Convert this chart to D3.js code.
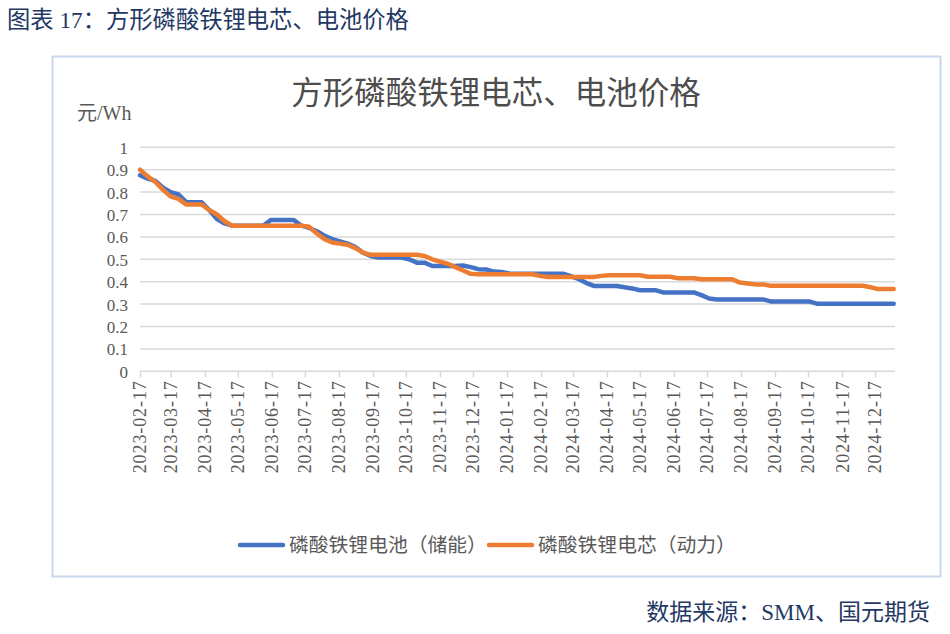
<!DOCTYPE html>
<html>
<head>
<meta charset="utf-8">
<script src="https://cdn.jsdelivr.net/npm/d3@7"></script>
<style>
  html, body { margin: 0; padding: 0; background: #fff; }
  svg { display: block; }
</style>
</head>
<body>
<svg id="chart" width="950" height="634"></svg>
<script>
// ---------------- data ----------------
const weekDates = [
  "2023-02-17","2023-02-24","2023-03-03","2023-03-10","2023-03-17","2023-03-24","2023-03-31",
  "2023-04-07","2023-04-14","2023-04-21","2023-04-28","2023-05-05","2023-05-12","2023-05-19",
  "2023-05-26","2023-06-02","2023-06-09","2023-06-16","2023-06-23","2023-06-30","2023-07-07",
  "2023-07-14","2023-07-21","2023-07-28","2023-08-04","2023-08-11","2023-08-18","2023-08-25",
  "2023-09-01","2023-09-08","2023-09-15","2023-09-22","2023-09-29","2023-10-06","2023-10-13",
  "2023-10-20","2023-10-27","2023-11-03","2023-11-10","2023-11-17","2023-11-24","2023-12-01",
  "2023-12-08","2023-12-15","2023-12-22","2023-12-29","2024-01-05","2024-01-12","2024-01-19",
  "2024-01-26","2024-02-02","2024-02-09","2024-02-16","2024-02-23","2024-03-01","2024-03-08",
  "2024-03-15","2024-03-22","2024-03-29","2024-04-05","2024-04-12","2024-04-19","2024-04-26",
  "2024-05-03","2024-05-10","2024-05-17","2024-05-24","2024-05-31","2024-06-07","2024-06-14",
  "2024-06-21","2024-06-28","2024-07-05","2024-07-12","2024-07-19","2024-07-26","2024-08-02",
  "2024-08-09","2024-08-16","2024-08-23","2024-08-30","2024-09-06","2024-09-13","2024-09-20",
  "2024-09-27","2024-10-04","2024-10-11","2024-10-18","2024-10-25","2024-11-01","2024-11-08",
  "2024-11-15","2024-11-22","2024-11-29","2024-12-06","2024-12-13","2024-12-20","2024-12-27",
  "2025-01-03"
];

// 磷酸铁锂电池（储能）
const storageBattery = [
  0.875,0.86,0.85,0.82,0.80,0.79,0.755,0.755,0.755,0.72,0.68,0.66,0.65,
  0.65,0.65,0.65,0.65,
  0.675,0.675,0.675,0.675,
  0.65,0.64,0.625,0.605,0.59,0.58,0.57,0.555,0.53,0.515,
  0.508,0.508,0.508,0.508,
  0.50,0.485,0.485,0.47,0.47,0.47,0.47,0.472,0.465,0.456,0.455,0.445,0.443,0.437,
  0.436,0.436,0.436,0.436,0.436,0.436,0.436,
  0.425,0.412,0.395,
  0.381,0.381,0.381,0.381,
  0.375,0.37,
  0.362,0.362,0.362,
  0.352,0.352,0.352,0.352,0.352,
  0.34,0.325,
  0.321,0.321,0.321,0.321,0.321,0.321,0.321,
  0.312,0.312,0.312,0.312,0.312,0.312,
  0.302,0.302,0.302,0.302,0.302,0.302,0.302,0.302,0.302,0.302,0.302
];

// 磷酸铁锂电芯（动力）
const powerCell = [
  0.90,0.87,0.845,0.81,0.78,0.77,0.745,0.745,0.745,0.72,0.70,0.67,0.65,
  0.65,0.65,0.65,0.65,0.65,0.65,0.65,0.65,0.65,
  0.645,0.615,0.59,0.575,0.57,0.565,0.55,0.53,0.52,
  0.52,0.52,0.52,0.52,0.52,0.52,
  0.515,0.50,0.49,0.48,0.465,0.45,0.435,
  0.433,0.433,0.433,0.433,0.433,0.433,0.433,0.433,
  0.426,
  0.421,0.421,0.421,0.421,0.421,0.421,0.421,
  0.426,
  0.429,0.429,0.429,0.429,0.429,
  0.422,0.422,0.422,0.422,
  0.415,0.415,0.415,
  0.411,0.411,0.411,0.411,0.411,
  0.396,0.392,0.388,0.388,
  0.382,0.382,0.382,0.382,0.382,0.382,0.382,0.382,0.382,0.382,0.382,0.382,0.382,
  0.375,0.367,0.367,0.367
];

const seriesNames = ["磷酸铁锂电池（储能）", "磷酸铁锂电芯（动力）"];
const seriesColors = ["#4472c4", "#ed7d31"];

const xTickLabels = [
  "2023-02-17","2023-03-17","2023-04-17","2023-05-17","2023-06-17","2023-07-17","2023-08-17",
  "2023-09-17","2023-10-17","2023-11-17","2023-12-17","2024-01-17","2024-02-17","2024-03-17",
  "2024-04-17","2024-05-17","2024-06-17","2024-07-17","2024-08-17","2024-09-17","2024-10-17",
  "2024-11-17","2024-12-17"
];
const yTickValues = [0, 0.1, 0.2, 0.3, 0.4, 0.5, 0.6, 0.7, 0.8, 0.9, 1];

// ---------------- drawing ----------------
const parse = d3.timeParse("%Y-%m-%d");
const svg = d3.select("#chart");
const serif = "'Liberation Serif', 'Times New Roman', 'Noto Sans CJK SC', serif";
const cjk = "'Liberation Serif', 'Noto Sans CJK SC', sans-serif";

svg.append("rect").attr("width", 950).attr("height", 634).attr("fill", "#fff");

// caption
svg.append("text")
  .attr("x", 7).attr("y", 28)
  .attr("font-family", cjk).attr("font-size", 23.3)
  .attr("fill", "#1f3864")
  .text("图表 17：方形磷酸铁锂电芯、电池价格");

// chart border
svg.append("rect")
  .attr("x", 52.5).attr("y", 56.5).attr("width", 888).attr("height", 520)
  .attr("fill", "none").attr("stroke", "#c9d6ee").attr("stroke-width", 2);

// title
svg.append("text")
  .attr("x", 496).attr("y", 104)
  .attr("text-anchor", "middle")
  .attr("font-family", cjk).attr("font-size", 31.5)
  .attr("fill", "#4d4d4d")
  .text("方形磷酸铁锂电芯、电池价格");

// unit label
svg.append("text")
  .attr("x", 77).attr("y", 120)
  .attr("font-family", cjk).attr("font-size", 20)
  .attr("fill", "#595959")
  .text("元/Wh");

const x = d3.scaleTime()
  .domain([parse(weekDates[0]), parse(weekDates[weekDates.length - 1])])
  .range([140, 893.7]);
const y = d3.scaleLinear().domain([0, 1]).range([371.3, 147.3]);

// gridlines
svg.append("g")
  .selectAll("line")
  .data(yTickValues.filter(v => v > 0))
  .join("line")
  .attr("x1", 140).attr("x2", 895)
  .attr("y1", d => y(d)).attr("y2", d => y(d))
  .attr("stroke", "#d9d9d9").attr("stroke-width", 1.5);

// y axis labels
const yAxis = d3.axisLeft(y).tickValues(yTickValues)
  .tickFormat(d => d3.format("~g")(d)).tickSize(0).tickPadding(0);
const yG = svg.append("g").attr("transform", "translate(128,0)").call(yAxis);
yG.select(".domain").remove();
yG.selectAll("text")
  .attr("font-family", serif).attr("font-size", 17)
  .attr("fill", "#595959").attr("dy", "0.35em");

// x axis
const xAxis = d3.axisBottom(x)
  .tickValues(xTickLabels.map(parse))
  .tickFormat(d3.timeFormat("%Y-%m-%d"))
  .tickSize(6).tickSizeOuter(0).tickPadding(6);
const xG = svg.append("g").attr("transform", `translate(0,${y(0)})`).call(xAxis);
xG.select(".domain").attr("d", `M140,0H895`).attr("stroke", "#d9d9d9").attr("stroke-width", 1.5);
xG.selectAll(".tick line").attr("stroke", "#d9d9d9").attr("stroke-width", 1.5);
xG.selectAll(".tick text")
  .attr("font-family", serif).attr("font-size", 18)
  .attr("letter-spacing", "0.9px")
  .attr("fill", "#595959")
  .attr("text-anchor", "end")
  .attr("transform", "rotate(-90)")
  .attr("x", -9).attr("y", 0).attr("dy", "0.33em");

// lines
const dates = weekDates.map(parse);
const line = d3.line()
  .x((d, i) => x(dates[i]))
  .y(d => y(d));

[storageBattery, powerCell].forEach((vals, si) => {
  svg.append("path")
    .datum(vals)
    .attr("d", line)
    .attr("fill", "none")
    .attr("stroke", seriesColors[si])
    .attr("stroke-width", 4.5)
    .attr("stroke-linejoin", "round")
    .attr("stroke-linecap", "round");
});

// legend
const legendX = [240, 489];
seriesNames.forEach((name, i) => {
  const g = svg.append("g").attr("transform", `translate(${legendX[i]},545)`);
  g.append("line").attr("x1", 0).attr("x2", 43).attr("y1", 0).attr("y2", 0)
    .attr("stroke", seriesColors[i]).attr("stroke-width", 4.5)
    .attr("stroke-linecap", "round");
  g.append("text").attr("x", 49).attr("y", 0).attr("dy", "0.35em")
    .attr("font-family", cjk).attr("font-size", 19.8)
    .attr("fill", "#595959").text(name);
});

// source
svg.append("text")
  .attr("x", 930).attr("y", 620)
  .attr("text-anchor", "end")
  .attr("font-family", cjk).attr("font-size", 23)
  .attr("fill", "#1f3864")
  .text("数据来源：SMM、国元期货");
</script>
</body>
</html>
